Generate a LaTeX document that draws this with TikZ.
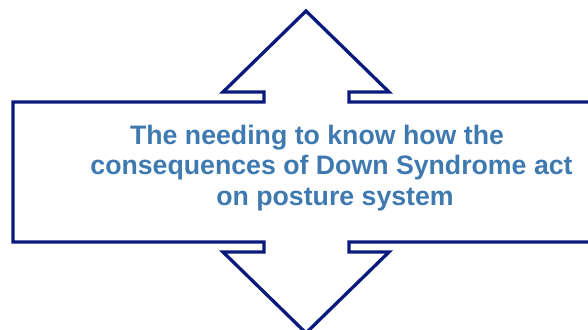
\documentclass[tikz,border=0pt]{standalone}
\usepackage{fontspec}
\setmainfont{Liberation Sans}
\usepackage{tikz}
\usetikzlibrary{calc}
\definecolor{navyline}{RGB}{10,25,125}
\definecolor{textblue}{RGB}{62,121,176}

\begin{document}
\begin{tikzpicture}[x=1pt,y=-1pt,
        outline/.style={draw=navyline,line width=3.3pt,line join=miter},
        every node/.style={anchor=base,text=textblue,inner sep=0pt,font=\fontsize{26.7}{30}\selectfont\bfseries}]
            % Visible part of the slide
            \clip (0,0) rectangle (588,329);

            % Define the tips of the two arrow heads
            \coordinate (topTip) at (306,11);
            \coordinate (botTip) at (306,333);

            % Box with the up and down arrows as one outline
            \draw[outline] (13,102) -- (264,102) -- (264,92) -- (223,92) -- (topTip)
                -- (389,92) -- (349,92) -- (349,102) -- (620,102)
                -- (620,242) -- (349,242) -- (349,252) -- (389,252) -- (botTip)
                -- (223,252) -- (264,252) -- (264,242) -- (13,242) -- cycle;

            \node (lineA) at (317,144) {The needing to know how the};
            \node (lineB) at (331.5,174.5) {consequences of Down Syndrome act};
            \node (lineC) at (335,205) {on posture system};

        \end{tikzpicture}
\end{document}
